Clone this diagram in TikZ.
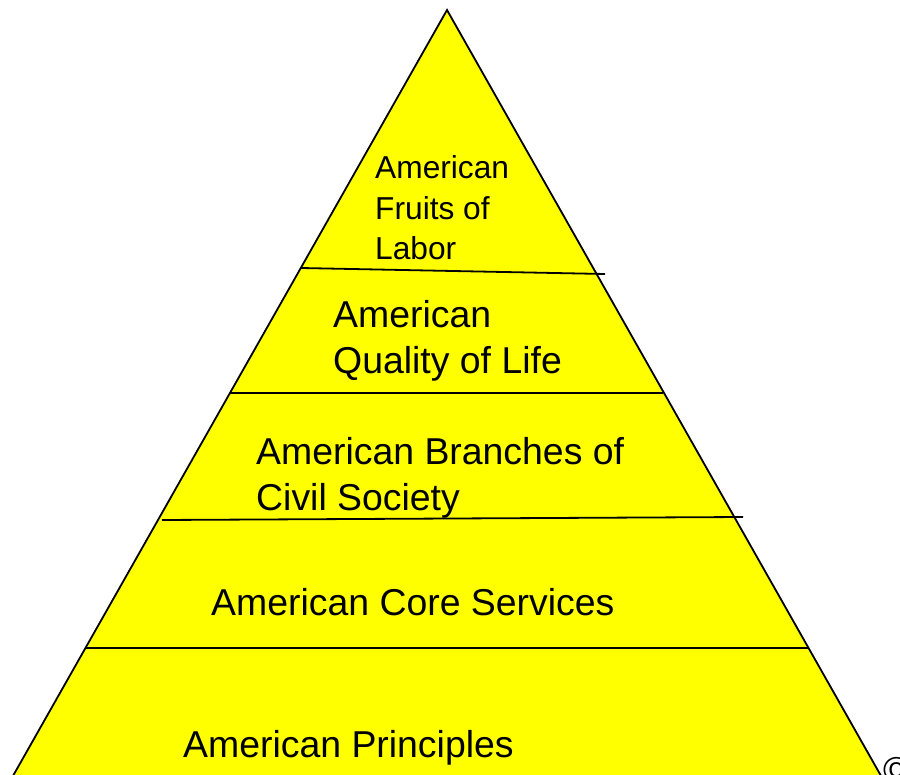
\documentclass[tikz,border=0pt]{standalone}
\usepackage{fontspec}
\setmainfont{Liberation Sans}
\definecolor{pyryellow}{RGB}{255,255,0}
\begin{document}
\begin{tikzpicture}[x=1pt,y=-1pt,every node/.append style={inner sep=0pt,anchor=west,align=left},
  big/.style={font=\fontsize{37.4}{46}\selectfont},
  small/.style={font=\fontsize{31.7}{40.5}\selectfont},
  layer/.style={line width=1.8pt}]
  \useasboundingbox (0,0) rectangle (900,775);
  \clip (0,0) rectangle (900,775);

  \coordinate (Top) at (447,10);
  \coordinate (BotL) at (5,790);
  \coordinate (BotR) at (889,790);
  \draw[layer,fill=pyryellow] (Top)--(BotL)--(BotR)--cycle;

  \coordinate (L1) at (301,268);  \coordinate (R1) at (605,274);
  \coordinate (L2) at (230,393);  \coordinate (R2) at (663,393);
  \coordinate (L3) at (162,520);  \coordinate (R3) at (743,517);
  \coordinate (L4) at (86,648);   \coordinate (R4) at (808,648);
  \draw[layer] (L1)--(R1);
  \draw[layer] (L2)--(R2);
  \draw[layer] (L3)--(R3);
  \draw[layer] (L4)--(R4);

  \node[small] (Fruits) at (375,208) {American\\Fruits of\\Labor};
  \node[big] (Quality) at (333,341) {American\\Quality of Life};
  \node[big] (Branches) at (256,478) {American Branches of\\Civil Society};
  \node[big] (Core) at (211,602) {American Core Services};
  \node[big] (Principles) at (183,748) {American Principles};
  \node[font=\fontsize{36}{40}\selectfont] (Copy) at (883,770) {©};
\end{tikzpicture}
\end{document}
